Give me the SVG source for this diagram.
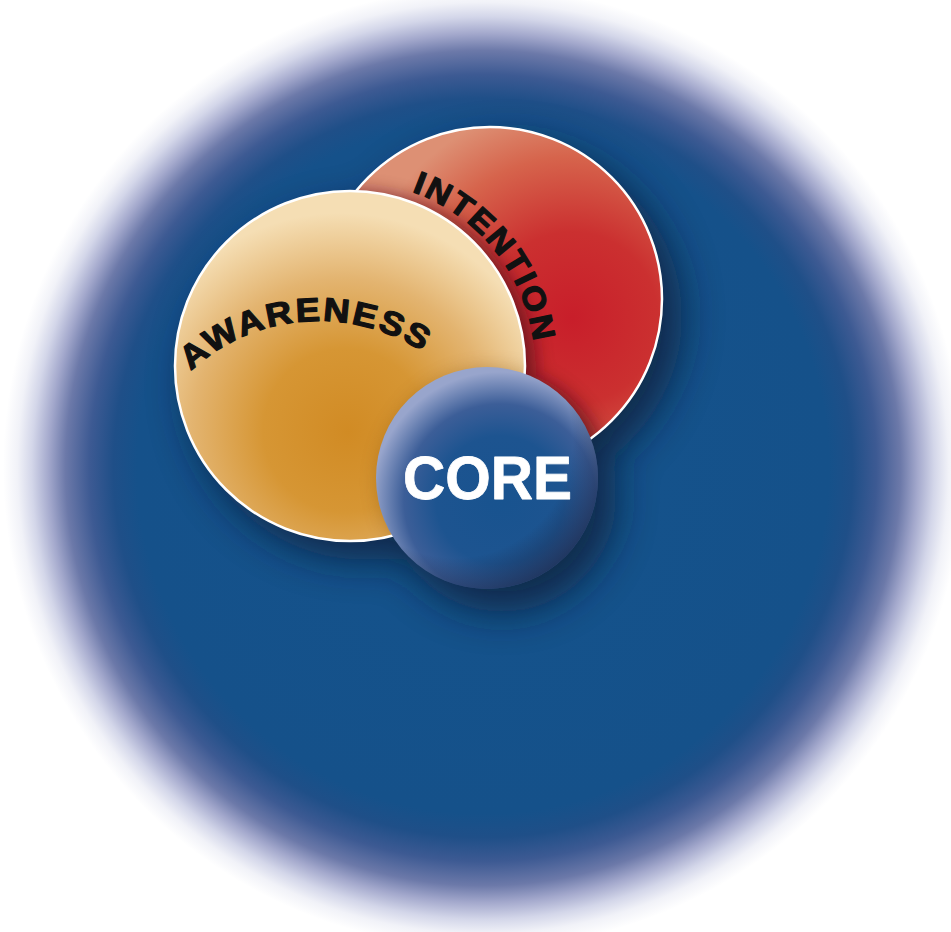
<svg xmlns="http://www.w3.org/2000/svg" width="951" height="932" viewBox="0 0 951 932">
  <defs>
    <style>
      .lbl { font-family: "Liberation Sans", Arial, sans-serif; font-weight: bold; fill: #111111; stroke: #111111; stroke-width: 1.2; stroke-linejoin: round; }
      .core-lbl { font-family: "Liberation Sans", Arial, sans-serif; font-weight: bold; fill: #ffffff; stroke: #ffffff; stroke-width: 0.8; stroke-linejoin: round; }
      .rim { fill: none; stroke: #ffffff; stroke-width: 2.5; }
    </style>
    <radialGradient id="bg" gradientUnits="userSpaceOnUse" cx="483" cy="468" r="480">
      <stop offset="0" stop-color="#14538c"/>
      <stop offset="0.72" stop-color="#15518a"/>
      <stop offset="0.77" stop-color="#1f4f88"/>
      <stop offset="0.82" stop-color="#3d5a93"/>
      <stop offset="0.87" stop-color="#6c79a9"/>
      <stop offset="0.905" stop-color="#a3a8cc"/>
      <stop offset="0.94" stop-color="#d3d6e9"/>
      <stop offset="0.97" stop-color="#f1f2f8"/>
      <stop offset="1" stop-color="#ffffff"/>
    </radialGradient>
    <radialGradient id="gAw" gradientUnits="userSpaceOnUse" cx="340" cy="428" r="215" fx="348" fy="432">
      <stop offset="0" stop-color="#d18b24"/>
      <stop offset="0.38" stop-color="#d69634"/>
      <stop offset="0.7" stop-color="#e3b470"/>
      <stop offset="1" stop-color="#f5deb4"/>
    </radialGradient>
    <radialGradient id="gIn" gradientUnits="userSpaceOnUse" cx="572" cy="318" r="215">
      <stop offset="0" stop-color="#c81e2a"/>
      <stop offset="0.4" stop-color="#cb3030"/>
      <stop offset="0.75" stop-color="#d6644c"/>
      <stop offset="1" stop-color="#dd9074"/>
    </radialGradient>
    <radialGradient id="gCore" gradientUnits="userSpaceOnUse" cx="500" cy="500" r="128">
      <stop offset="0" stop-color="#18538f"/>
      <stop offset="0.5" stop-color="#1d5490"/>
      <stop offset="0.75" stop-color="#3c5e98"/>
      <stop offset="1" stop-color="#98a5cc"/>
    </radialGradient>
    <radialGradient id="gCoreDark" gradientUnits="userSpaceOnUse" cx="455" cy="440" r="190">
      <stop offset="0.62" stop-color="#1a2a4e" stop-opacity="0"/>
      <stop offset="0.85" stop-color="#1a2a4e" stop-opacity="0.75"/>
      <stop offset="1" stop-color="#1a2a4e" stop-opacity="0.9"/>
    </radialGradient>
    <filter id="blurBig" x="-30%" y="-30%" width="160%" height="160%">
      <feGaussianBlur stdDeviation="20"/>
    </filter>
    <filter id="blurMid" x="-30%" y="-30%" width="160%" height="160%">
      <feGaussianBlur stdDeviation="9"/>
    </filter>
    <clipPath id="clipIn">
      <circle cx="490" cy="299" r="172"/>
    </clipPath>
    <clipPath id="clipAw">
      <circle cx="350" cy="366" r="175"/>
    </clipPath>
    <path id="pAw" d="M 130,510 A 189 189 0 0 1 508,510"/>
    <path id="pIn" d="M 350,181 A 185 185 0 0 1 535,366 A 185 185 0 0 1 350,551"/>
  </defs>

  <g id="background">
    <rect width="951" height="932" fill="#ffffff"/>
    <circle cx="483" cy="468" r="480" fill="url(#bg)"/>
    <g filter="url(#blurBig)" fill="#0c1c34" opacity="0.75">
      <circle cx="508" cy="317" r="174"/>
      <circle cx="364" cy="384" r="176"/>
      <circle cx="502" cy="498" r="114"/>
    </g>
  </g>

  <g id="intention">
    <circle cx="490" cy="299" r="172" fill="url(#gIn)"/>
    <g clip-path="url(#clipIn)">
      <g filter="url(#blurMid)" fill="#5a0f1c" opacity="0.75">
        <circle cx="356" cy="372" r="180"/>
        <circle cx="493" cy="484" r="116"/>
      </g>
    </g>
    <circle class="rim" cx="490" cy="299" r="172"/>
    <text class="lbl" font-size="32" letter-spacing="2"><textPath href="#pIn" startOffset="63" textLength="205" lengthAdjust="spacingAndGlyphs">INTENTION</textPath></text>
  </g>

  <g id="awareness">
    <circle cx="350" cy="366" r="175" fill="url(#gAw)"/>
    <g clip-path="url(#clipAw)">
      <g filter="url(#blurMid)" fill="#7a4a10" opacity="0.35">
        <circle cx="492" cy="482" r="114"/>
      </g>
    </g>
    <circle class="rim" cx="350" cy="366" r="175"/>
    <text class="lbl" font-size="33" letter-spacing="2"><textPath href="#pAw" startOffset="156" textLength="252" lengthAdjust="spacingAndGlyphs">AWARENESS</textPath></text>
  </g>

  <g id="core">
    <circle cx="487" cy="478" r="111" fill="url(#gCore)"/>
    <circle cx="487" cy="478" r="111" fill="url(#gCoreDark)"/>
    <text class="core-lbl" x="487.5" y="499" font-size="61" text-anchor="middle" textLength="169" lengthAdjust="spacingAndGlyphs">CORE</text>
  </g>

  <g id="connectors"/>
</svg>
